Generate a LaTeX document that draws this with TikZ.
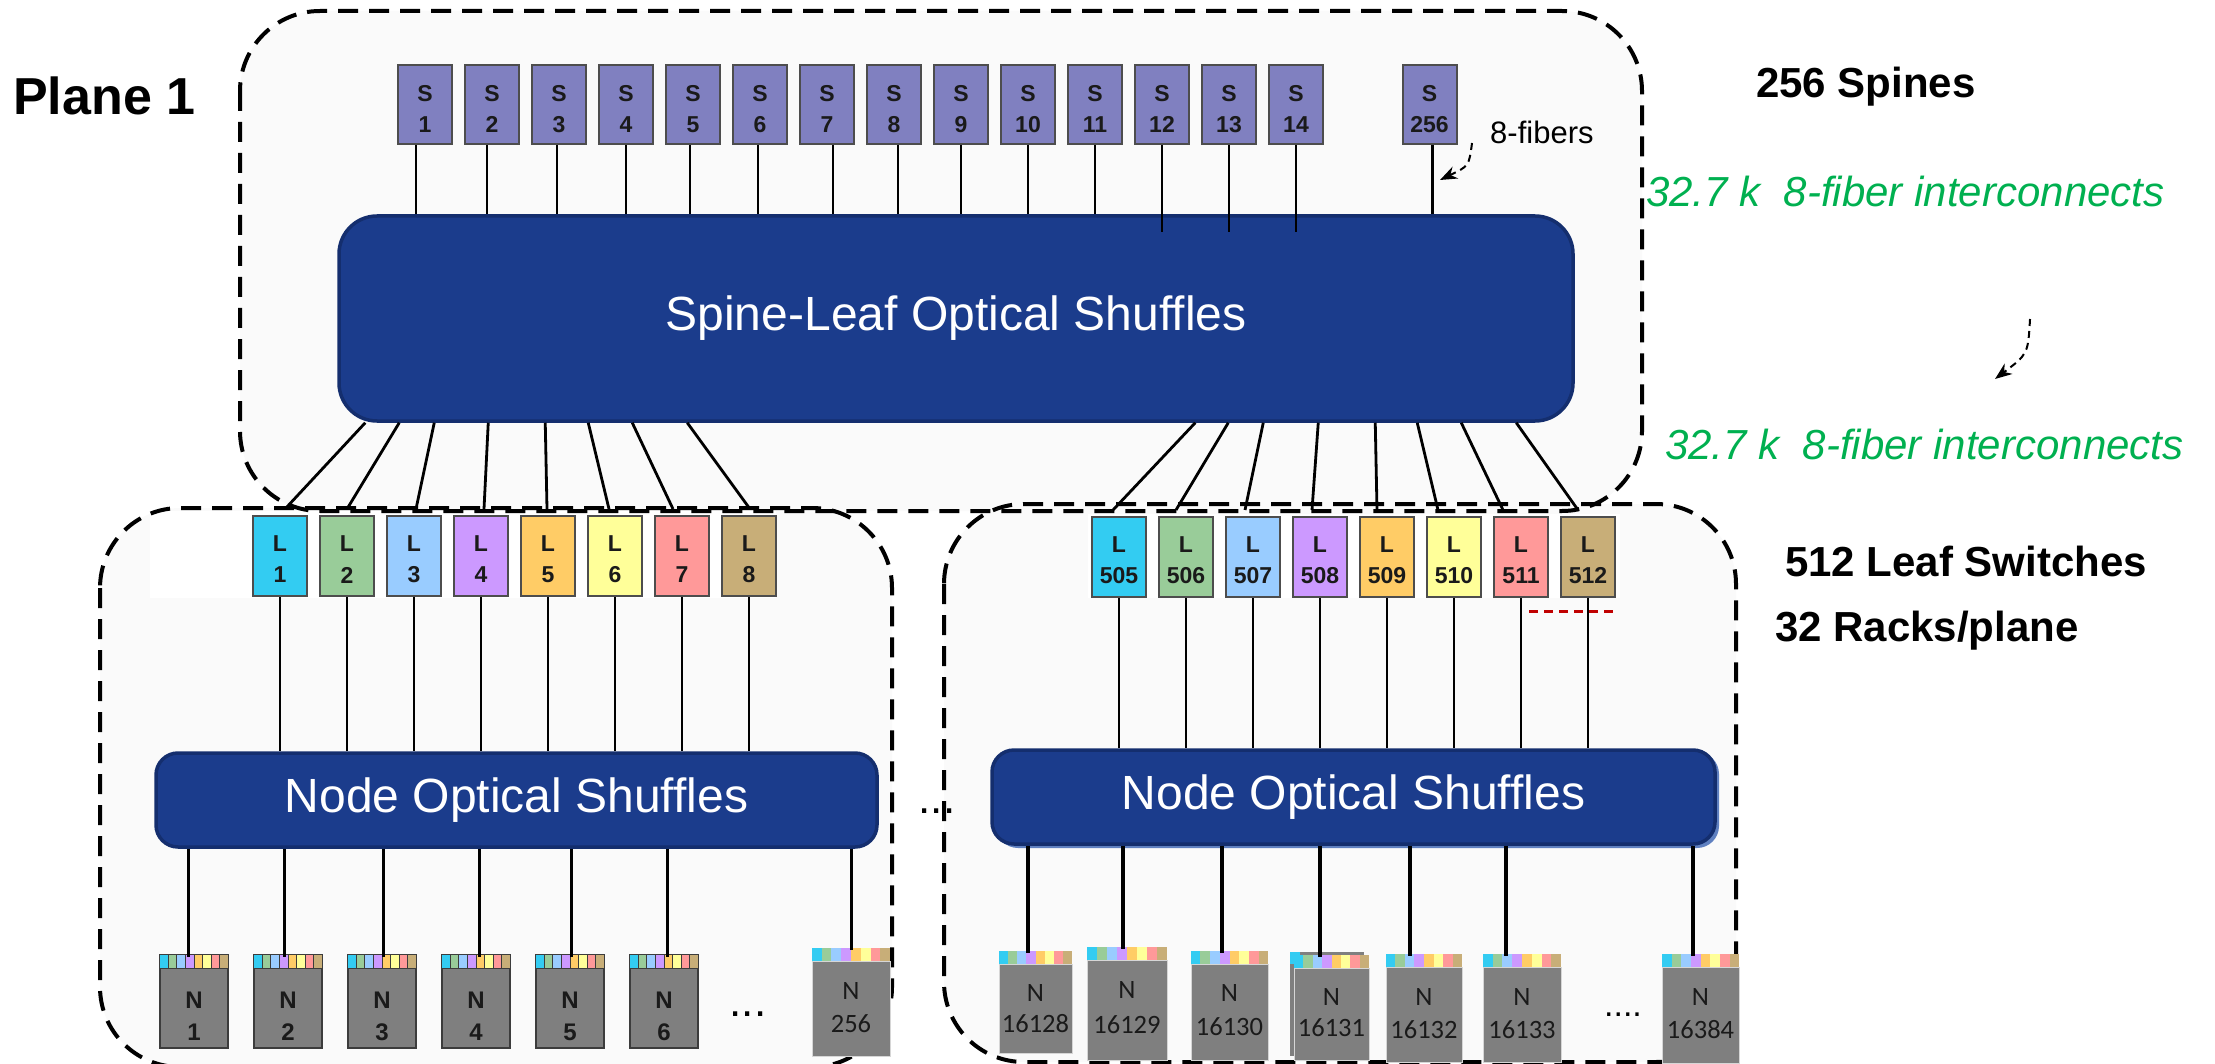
\documentclass[tikz,border=0pt]{standalone}
\usepackage{fontspec}
\setmainfont{Liberation Sans}
\newfontfamily\calfont{Carlito}
\usetikzlibrary{calc,arrows.meta}

\definecolor{panelbg}{HTML}{FAFAFA}
\definecolor{spinefill}{HTML}{8080C0}
\definecolor{shufblue}{HTML}{1B3C8C}
\definecolor{shufedge}{HTML}{142E6E}
\definecolor{shufshade}{HTML}{5F80C0}
\definecolor{boxedge}{HTML}{4D4D4D}
\definecolor{srvedge}{HTML}{3C3C3C}
\definecolor{srvlight}{HTML}{D6D6D6}
\definecolor{nodegray}{HTML}{7F7F7F}
\definecolor{lc1}{HTML}{33CCF2}
\definecolor{lc2}{HTML}{99CC99}
\definecolor{lc3}{HTML}{99CCFF}
\definecolor{lc4}{HTML}{CC99FF}
\definecolor{lc5}{HTML}{FFCC66}
\definecolor{lc6}{HTML}{FFFF99}
\definecolor{lc7}{HTML}{FF9999}
\definecolor{lc8}{HTML}{C8AE78}
\definecolor{fibergreen}{HTML}{00B050}
\definecolor{markred}{HTML}{C00000}
\definecolor{labelink}{HTML}{1A1A1A}

\begin{document}
\begin{tikzpicture}[x=1pt,y=-1pt,
  panel/.style={draw=black, line width=4pt, dash pattern=on 20pt off 11pt, rounded corners=80pt},
  panelfill/.style={fill=panelbg, rounded corners=80pt},
  shufbox/.style={fill=shufblue, draw=shufedge, line width=3.5pt, inner sep=0pt, text=white,
                  font=\fontsize{48}{48}\selectfont},
  spinebox/.style={draw=boxedge, line width=2pt, fill=spinefill, minimum width=54pt,
                   minimum height=79pt, inner sep=0pt},
  leafbox/.style={draw=boxedge, line width=2pt, minimum width=54pt, minimum height=80pt, inner sep=0pt},
  boxlbl/.style={font=\bfseries\fontsize{23}{23}\selectfont, text=labelink, inner sep=0pt},
  srvbody/.style={draw=srvedge, line width=2pt, fill=nodegray, inner sep=0pt},
  srvflat/.style={draw=srvlight, line width=1pt, fill=nodegray, inner sep=0pt},
  srvstrip/.style={inner sep=0pt, minimum height=13pt},
  cellbox/.style={draw=srvedge, line width=1pt},
  cellflat/.style={draw=none},
  srvbold/.style={font=\bfseries\fontsize{24}{24}\selectfont, text=labelink, inner sep=0pt},
  srvreg/.style={font=\calfont\fontsize{26.5}{26.5}\selectfont, text=labelink, inner sep=0pt},
  wire/.style={line width=2.8pt},
  thickwire/.style={line width=4pt},
  headline/.style={anchor=base west, inner sep=0pt, font=\bfseries\fontsize{42}{42}\selectfont},
  greenlbl/.style={anchor=base west, inner sep=0pt, text=fibergreen,
                   font=\itshape\fontsize{42}{42}\selectfont},
  fibarrow/.style={line width=2pt, dash pattern=on 7pt off 5pt,
                   -{Stealth[length=17pt,width=13pt]}},
  dotrow/.style={anchor=base, inner sep=0pt, font=\fontsize{44}{44}\selectfont}
]
\useasboundingbox (0,0) rectangle (2215,1064);

% ---- plane and rack enclosures (fills first, outlines on top) ----
\fill[panelfill] (240,11) rectangle (1642,511);
\fill[panelfill] (100,508) rectangle (892,1067);
\fill[panelfill] (944,504) rectangle (1736,1062);
\fill[white] (150,511) rectangle (776,598);
\fill[white] (1088,514) rectangle (1620,598);
\draw[panel] (240,11) rectangle (1642,511);
\draw[panel] (100,508) rectangle (892,1067);
\draw[panel] (944,504) rectangle (1736,1062);

% ---- optical shuffles ----
\node[shufbox, rounded corners=38pt, minimum width=1234pt, minimum height=205pt]
  (SL) at (956,318.5) {Spine-Leaf Optical Shuffles};
\node[shufbox, rounded corners=22pt, minimum width=721pt, minimum height=94pt]
  (NSL) at (516.5,800) {Node Optical Shuffles};
\fill[shufshade, rounded corners=22pt] (996,752) rectangle (1719,848);
\node[shufbox, rounded corners=22pt, minimum width=723pt, minimum height=94pt]
  (NSR) at (1353.5,797) {Node Optical Shuffles};

% ---- spine switches ----
\foreach \i in {1,...,14} {
  \node[spinebox] (S\i) at ({425+67*(\i-1)},104.5) {};
  \node[boxlbl] (Sa\i) at ([yshift=11pt]S\i.center) {S};
  \node[boxlbl] (Sb\i) at ([yshift=-20pt]S\i.center) {\i};
}
\node[spinebox] (S256) at (1429.5,104.5) {};
\node[boxlbl] (Sa256) at ([yshift=11pt]S256.center) {S};
\node[boxlbl] (Sb256) at ([yshift=-20pt]S256.center) {256};

\foreach \i/\dx in {1/-9,2/-5,3/-2,4/0,5/-3,6/-2,7/6,8/4,9/0,10/0,11/0}
  \draw[wire] ([xshift=\dx pt]S\i.south) -- ([xshift=\dx pt]S\i.south |- SL.north);
\foreach \i in {12,13,14}
  \draw[wire] (S\i.south) -- ([yshift=-18pt]S\i.south |- SL.north);
\draw[wire] ([xshift=3pt]S256.south) -- ([xshift=3pt]S256.south |- SL.north);

% ---- leaf switches ----
\foreach \i/\c in {1/lc1,2/lc2,3/lc3,4/lc4,5/lc5,6/lc6,7/lc7,8/lc8} {
  \node[leafbox, fill=\c] (La\i) at ({280+67*(\i-1)},556) {};
  \node[boxlbl] (Lat\i) at ([yshift=12pt]La\i.center) {L};
  \node[boxlbl] (Lan\i) at ([yshift=-19pt]La\i.center) {\i};
  \node[leafbox, fill=\c] (Lb\i) at ({1119+67*(\i-1)},557) {};
  \node[boxlbl] (Lbt\i) at ([yshift=12pt]Lb\i.center) {L};
  \pgfmathtruncatemacro\leafno{504+\i}
  \node[boxlbl] (Lbn\i) at ([yshift=-19pt]Lb\i.center) {\leafno};
}

% spine-leaf shuffle down to the leaves
\foreach \i/\t/\b in {1/28/5,2/62/0,3/97/2,4/151/3,5/208/-1,6/251/-6,7/295/-9,8/350/1}
  \draw[wire] ([xshift=\t pt]SL.south west) -- ([xshift=\b pt,yshift=6pt]La\i.north);
\foreach \i/\t/\b in {1/858/-6,2/891/-10,3/926/-8,4/981/-8,5/1038/-10,6/1080/-16,7/1124/-18,8/1179/-10}
  \draw[wire] ([xshift=\t pt]SL.south west) -- ([xshift=\b pt,yshift=6pt]Lb\i.north);

% leaves down to the node shuffles
\foreach \i in {1,...,8} {
  \draw[wire] (La\i.south) -- (La\i.south |- NSL.north);
  \draw[wire] (Lb\i.south) -- (Lb\i.south |- NSR.north);
}
\draw[markred, line width=3pt, dash pattern=on 9pt off 6pt]
  ([xshift=8pt,yshift=-13pt]Lb7.south) -- ([yshift=-13pt]Lb8.south east);

% a second chassis just behind node 16131
\fill[nodegray] (1290,952) rectangle (1364,1056);
\fill[lc1] (1290,952) rectangle (1300,964);

% ---- compute nodes: name / x / width / strip top / bottom / number / text / body / cells / N shift / number shift
\foreach \nm/\cx/\w/\st/\bt/\num/\lf/\bs/\cs/\no/\nn in {
    na1/194/68/955/1048/1/srvbold/srvbody/cellbox/8/-24,
    na2/288/68/955/1048/2/srvbold/srvbody/cellbox/8/-24,
    na3/382/68/955/1048/3/srvbold/srvbody/cellbox/8/-24,
    na4/476/68/955/1048/4/srvbold/srvbody/cellbox/8/-24,
    na5/570/68/955/1048/5/srvbold/srvbody/cellbox/8/-24,
    na6/664/68/955/1048/6/srvbold/srvbody/cellbox/8/-24,
    na7/851/78/948/1056/256/srvreg/srvflat/cellflat/18/-15,
    nb1/1035.5/73/951/1053/16128/srvreg/srvflat/cellflat/16/-15,
    nb2/1127/80/947/1060/16129/srvreg/srvflat/cellflat/20/-15,
    nb3/1229.5/77/951/1060/16130/srvreg/srvflat/cellflat/19/-15,
    nb4/1331.5/75/955/1060/16131/srvreg/srvflat/cellflat/17/-14,
    nb5/1424/76/954/1062/16132/srvreg/srvflat/cellflat/18/-15,
    nb6/1522/78/954/1062/16133/srvreg/srvflat/cellflat/18/-15,
    nb7/1700.5/77/954/1063/16384/srvreg/srvflat/cellflat/18/-15} {
  \pgfmathsetmacro\bodyc{(\st+13+\bt)/2}
  \pgfmathsetmacro\bodyh{\bt-\st-13}
  \node[\bs, minimum width=\w pt, minimum height=\bodyh pt] (\nm) at (\cx,\bodyc) {};
  \node[srvstrip, minimum width=\w pt] (\nm-s) at (\cx,\st+6.5) {};
  \foreach \c [count=\k from 0] in {lc1,lc2,lc3,lc4,lc5,lc6,lc7,lc8} {
    \pgfmathsetmacro\kk{\k+1}
    \draw[\cs, fill=\c] ($(\nm-s.south west)!\k/8!(\nm-s.south east)$)
      rectangle ($(\nm-s.north west)!\kk/8!(\nm-s.north east)$);
  }
  \node[\lf] (\nm-N) at ([yshift=\no pt]\nm.center) {N};
  \node[\lf] (\nm-T) at ([yshift=\nn pt]\nm.center) {\num};
}

% node shuffles down to the compute nodes
\foreach \nm/\dx in {na1/-6,na2/-4,na3/1,na4/3,na5/1,na6/3,na7/0}
  \draw[line width=3pt] ([xshift=\dx pt]\nm-s.north |- NSL.south) -- ([xshift=\dx pt,yshift=-2pt]\nm-s.north);
\foreach \nm/\dx in {nb1/-8,nb2/-4,nb3/-8,nb4/-12,nb5/-14,nb6/-16,nb7/-8}
  \draw[thickwire] ([xshift=\dx pt]\nm-s.north |- NSR.south) -- ([xshift=\dx pt,yshift=-2pt]\nm-s.north);

% ---- ellipses ----
\node[dotrow] (gapdots) at (937,813) {...};
\node[dotrow] (rowdotsA) at (748,1016) {...};
\node[dotrow, font=\fontsize{34}{34}\selectfont] (rowdotsB) at (1623,1016) {....};

% ---- titles and annotations ----
\node[anchor=base west, inner sep=0pt, font=\bfseries\fontsize{52}{52}\selectfont] (plane) at (13,115) {Plane 1};
\node[headline] (spines) at (1756,98) {256 Spines};
\node[headline] (leaves) at (1785,576) {512 Leaf Switches};
\node[headline] (racks) at (1775,641) {32 Racks/plane};
\node[greenlbl] (icA) at (1646,207) {32.7 k\ \ 8-fiber interconnects};
\node[greenlbl] (icB) at (1665,459) {32.7 k\ \ 8-fiber interconnects};
\node[anchor=base west, inner sep=0pt, font=\fontsize{31}{31}\selectfont] (fibers) at (1490,144) {8-fibers};

\coordinate (fa) at (1472,143);
\coordinate (fb) at (1440,180);
\draw[fibarrow] (fa) .. controls (1469,166) .. (fb);
\coordinate (ga) at (2030,319);
\coordinate (gb) at (1995,379);
\draw[fibarrow] (ga) .. controls (2028,354) .. (gb);
\end{tikzpicture}
\end{document}
